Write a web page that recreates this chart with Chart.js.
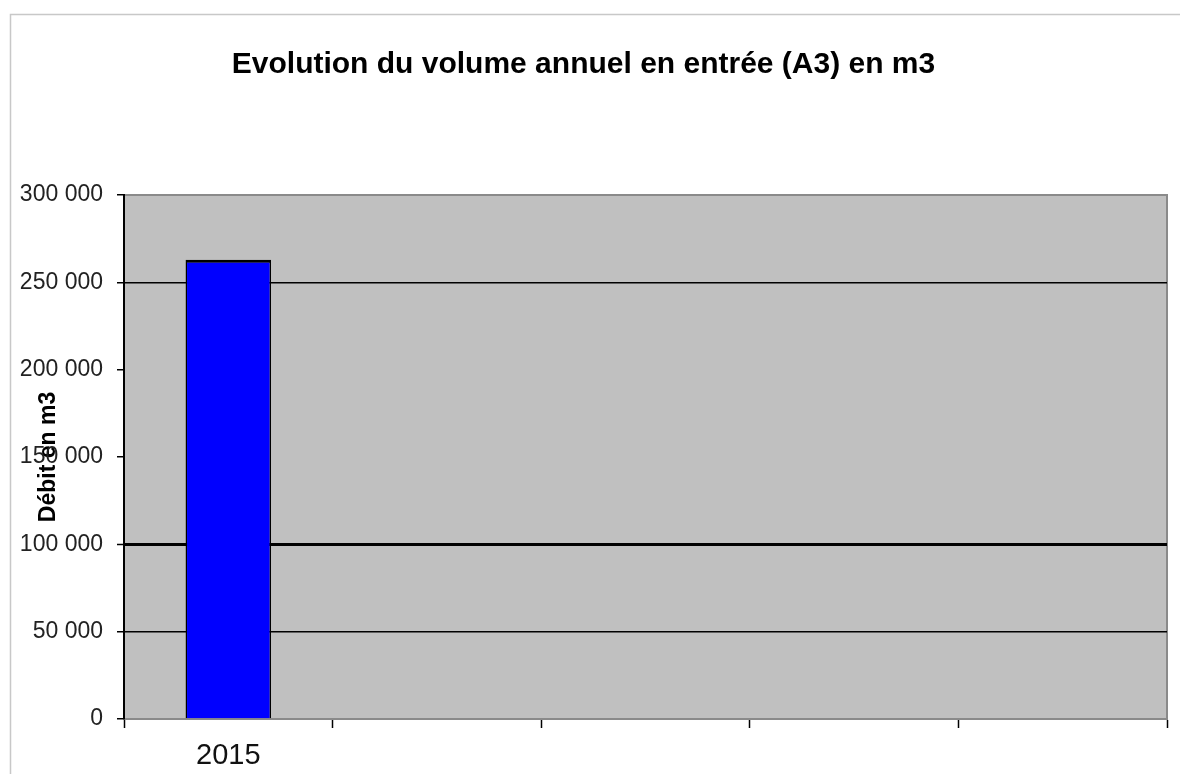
<!DOCTYPE html>
<html>
<head>
<meta charset="utf-8">
<title>Evolution du volume annuel en entrée (A3) en m3</title>
<script src="https://cdn.jsdelivr.net/npm/chart.js@4/dist/chart.umd.min.js"></script>
<style>
  html, body { margin: 0; padding: 0; background: #ffffff; }
  canvas { display: block; }
</style>
</head>
<body>
<canvas id="chart" width="1184" height="774"></canvas>
<script>
// Years on the category axis (only 2015 is filled in)
const years = ['2015', '', '', '', ''];
// Annual inflow volume in m3
const volumes = [263000, null, null, null, null];
// Value axis range and step
const yMin = 0;
const yMax = 300000;
const yStep = 50000;
// Horizontal reference lines drawn across the plot
const refLines = [250000, 100000, 50000];
const boldRefLine = 100000;

const FONT = "'Liberation Sans', Arial, Helvetica, sans-serif";

function fmtThousands(v) {
  return String(v).replace(/\B(?=(\d{3})+(?!\d))/g, ' ');
}

// Grey plot background, frame and outer box
const frame = {
  id: 'frame',
  beforeDraw(chart) {
    const { ctx, chartArea: a } = chart;
    ctx.save();
    // outer box (top and left edges)
    ctx.strokeStyle = '#c8c8c8';
    ctx.lineWidth = 1.5;
    ctx.beginPath();
    ctx.moveTo(10.5, 774);
    ctx.lineTo(10.5, 14.5);
    ctx.lineTo(1180, 14.5);
    ctx.stroke();
    // plot background
    ctx.fillStyle = '#c0c0c0';
    ctx.fillRect(a.left, a.top, a.right - a.left, a.bottom - a.top);
    // top and right plot edges
    ctx.strokeStyle = '#8a8a8a';
    ctx.lineWidth = 2;
    ctx.beginPath();
    ctx.moveTo(a.left, a.top);
    ctx.lineTo(a.right, a.top);
    ctx.lineTo(a.right, a.bottom);
    ctx.stroke();
    ctx.restore();
  }
};

new Chart(document.getElementById('chart'), {
  type: 'bar',
  data: {
    labels: years,
    datasets: [{
      label: 'Volume annuel en entrée (A3)',
      data: volumes,
      backgroundColor: '#0000ff',
      borderColor: '#000000',
      borderWidth: { top: 3, left: 1.5, right: 1.5, bottom: 0 },
      borderSkipped: false,
      barPercentage: 0.41,
      categoryPercentage: 1
    }]
  },
  options: {
    responsive: false,
    devicePixelRatio: 1,
    animation: false,
    layout: { padding: { left: 0, right: 17, top: 0, bottom: 0 } },
    plugins: {
      legend: { display: false },
      tooltip: { enabled: false },
      title: {
        display: true,
        text: 'Evolution du volume annuel en entrée (A3) en m3',
        color: '#000000',
        font: { family: FONT, size: 30, weight: 'bold' },
        padding: { top: 47, bottom: 112 }
      }
    },
    scales: {
      x: {
        offset: true,
        afterFit(scale) { scale.height = 55; },
        grid: {
          display: true,
          drawOnChartArea: false,
          drawTicks: true,
          tickLength: 9,
          tickColor: '#000000',
          tickWidth: 1.5,
          offset: true
        },
        border: { display: true, color: '#8a8a8a', width: 2 },
        ticks: {
          color: '#111111',
          font: { family: FONT, size: 29 },
          padding: 11,
          maxRotation: 0,
          autoSkip: false
        }
      },
      y: {
        min: yMin,
        max: yMax,
        afterFit(scale) { scale.width = 124; },
        title: {
          display: true,
          text: 'Débit en m3',
          color: '#000000',
          font: { family: FONT, size: 23, weight: 'bold' },
          padding: { top: 35, bottom: 0 }
        },
        grid: {
          drawTicks: true,
          tickLength: 7,
          tickColor: '#000000',
          tickWidth: 1.5,
          color(ctx) {
            const v = ctx.tick && ctx.tick.value;
            return refLines.includes(v) ? '#000000' : 'rgba(0,0,0,0)';
          },
          lineWidth(ctx) {
            const v = ctx.tick && ctx.tick.value;
            return v === boldRefLine ? 3 : 1.5;
          }
        },
        border: { display: true, color: '#000000', width: 2 },
        ticks: {
          stepSize: yStep,
          color: '#222222',
          font: { family: FONT, size: 23 },
          padding: 14,
          callback: (v) => fmtThousands(v)
        }
      }
    }
  },
  plugins: [frame]
});
</script>
</body>
</html>
